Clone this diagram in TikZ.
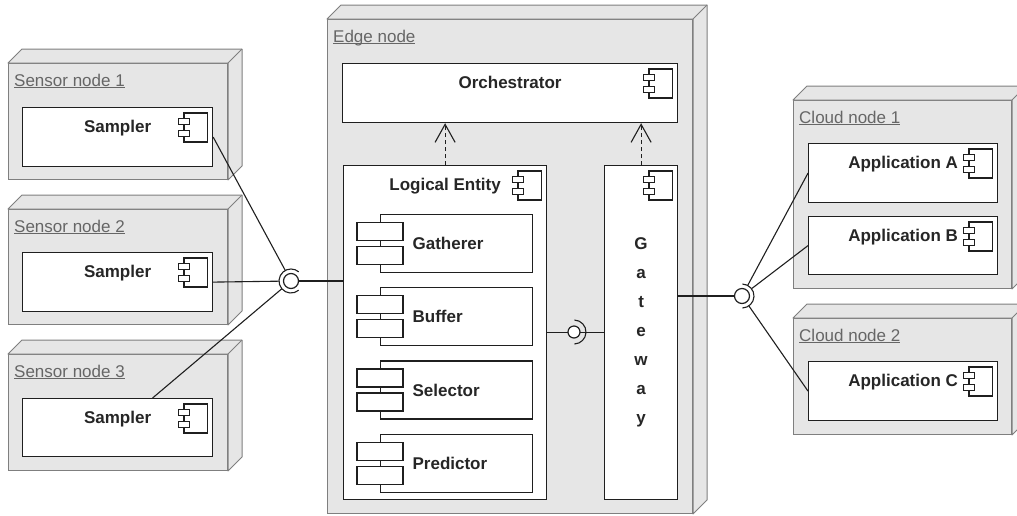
\documentclass[tikz,border=0pt]{standalone}
\usepackage{fontspec}
\setmainfont{Liberation Sans}
\usetikzlibrary{arrows.meta,calc,positioning}

\definecolor{nodefill}{HTML}{E6E6E6}
\definecolor{nodeline}{HTML}{7F7F7F}
\definecolor{titletext}{HTML}{666666}
\definecolor{compline}{HTML}{1F1F1F}

\tikzset{
    box3d/.style={
        draw=nodeline,
        fill=nodefill,
        line width=1pt,
        rectangle,
        anchor=north west,
        inner sep=0pt
    },
    face3d/.style={
        draw=nodeline,
        fill=nodefill,
        line width=1pt,
        line join=round
    },
    nodetitle/.style={
        anchor=base west,
        inner sep=0pt,
        text=titletext,
        font=\fontsize{17}{20}\selectfont
    },
    comp/.style={
        draw=compline,
        fill=white,
        line width=1.2pt,
        rectangle,
        anchor=north west,
        inner sep=0pt
    },
    compname/.style={
        anchor=base,
        inner sep=0pt,
        text=black!85,
        font=\bfseries\fontsize{17}{20}\selectfont
    },
    subcomp/.style={
        comp,
        minimum width=152pt,
        minimum height=58pt,
        text width=88pt,
        inner xsep=32pt,
        align=left,
        text=black!85,
        font=\bfseries\fontsize{17}{20}\selectfont
    },
    tabbox/.style={
        draw=compline,
        fill=white,
        line width=1.2pt
    },
    iface/.style={
        circle,
        minimum size=24pt,
        inner sep=0pt
    },
    ball/.style={
        circle,
        draw=compline,
        fill=white,
        line width=1.2pt,
        inner sep=0pt
    },
    link/.style={
        draw=compline,
        line width=1.1pt
    },
    dep/.style={
        draw=compline,
        line width=1.1pt,
        dash pattern=on 4pt off 3pt,
        -{Straight Barb[length=18pt,width=20pt]}
    },
    modicon/.pic={
        \draw[tabbox] (-29.2,6) rectangle (-6,35);
        \draw[tabbox] (-35,11.8) rectangle (-23.4,17.6);
        \draw[tabbox] (-35,23.4) rectangle (-23.4,29.2);
    }
}

% deployment node drawn as a 3d box: name, corner, width, height, title
\newcommand{\deploynode}[5]{%
    \node[box3d, minimum width=#3pt, minimum height=#4pt] (#1) at #2 {};
    \draw[face3d] (#1.north west) -- ++(14,-14) -- ($(#1.north east)+(14,-14)$)
        -- ($(#1.south east)+(14,-14)$) -- (#1.south east) -- (#1.north east) -- cycle;
    \draw[face3d] (#1.north east) -- ++(14,-14);
    \node[nodetitle] (#1-title) at ($(#1.north west)+(6,23)$) {\underline{\smash{#5}}};
}

\begin{document}
\begin{tikzpicture}[x=1pt, y=-1pt]
    \clip (0,0) rectangle (1017,515);

    % deployment nodes
    \deploynode{sens1}{(8,63)}{219}{116}{Sensor node 1}
    \deploynode{sens2}{(8,209)}{219}{115}{Sensor node 2}
    \deploynode{sens3}{(8,354)}{219}{116}{Sensor node 3}
    \deploynode{edge}{(327,19)}{365}{494}{Edge node}
    \deploynode{cloud1}{(793,100)}{218}{188}{Cloud node 1}
    \deploynode{cloud2}{(793,318)}{218}{116}{Cloud node 2}

    % sensor side
    \node[comp, minimum width=190pt, minimum height=59pt] (samp1) at (22,107) {};
    \node[compname] (samp1-name) at ($(samp1.north)+(0,25)$) {Sampler};
    \node[comp, minimum width=190pt, minimum height=59pt] (samp2) at (22,252) {};
    \node[compname] (samp2-name) at ($(samp2.north)+(0,25)$) {Sampler};
    \node[comp, minimum width=190pt, minimum height=58pt] (samp3) at (22,398) {};
    \node[compname] (samp3-name) at ($(samp3.north)+(0,25)$) {Sampler};

    % edge side
    \node[comp, minimum width=335pt, minimum height=59pt] (orch) at (342,63) {};
    \node[compname] (orch-name) at ($(orch.north)+(0,25)$) {Orchestrator};
    \node[comp, minimum width=203pt, minimum height=334pt] (le) at (343,165) {};
    \node[compname] (le-name) at ($(le.north)+(0,25)$) {Logical Entity};
    \node[comp, minimum width=73pt, minimum height=334pt, align=center, text=black!85,
          font=\bfseries\fontsize{17}{29}\selectfont] (gw) at (604,165) {G\\a\\t\\e\\w\\a\\y};

    \node[subcomp] (gath) at (380,214) {Gatherer};
    \node[subcomp, below=14pt of gath] (buff) {Buffer};
    \node[subcomp, below=14pt of buff] (sel) {Selector};
    \node[subcomp, below=14pt of sel] (pred) {Predictor};
    \foreach \c in {gath,buff,sel,pred}{
        \draw[tabbox] ($(\c.west)+(-23,-21)$) rectangle ++(46,18);
        \draw[tabbox] ($(\c.west)+(-23,3)$) rectangle ++(46,18);
    }

    % cloud side
    \node[comp, minimum width=189pt, minimum height=59pt] (appA) at (808,143) {};
    \node[compname] (appA-name) at ($(appA.north)+(0,25)$) {Application A};
    \node[comp, minimum width=189pt, minimum height=58pt] (appB) at (808,216) {};
    \node[compname] (appB-name) at ($(appB.north)+(0,25)$) {Application B};
    \node[comp, minimum width=189pt, minimum height=59pt] (appC) at (808,361) {};
    \node[compname] (appC-name) at ($(appC.north)+(0,25)$) {Application C};

    \foreach \c in {samp1,samp2,samp3,orch,le,gw,appA,appB,appC}{
        \pic at (\c.north east) {modicon};
    }

    % interfaces
    \node[iface] (ifL) at (291,281) {};
    \node[iface] (ifM) at (574,332) {};
    \node[iface] (ifR) at (742,296) {};

    \draw[link] (samp1.east) -- (ifL);
    \draw[link] (samp2.east) -- (ifL);
    \draw[link] (samp3) -- (ifL);
    \draw[link] (ifL.center) -- (ifL -| le.west);
    \draw[link] (le.east) -- (gw.west);
    \draw[link] (ifR -| gw.east) -- (ifR.center);
    \draw[link] (ifR) -- (appA.west);
    \draw[link] (ifR) -- (appB.west);
    \draw[link] (ifR) -- (appC.west);

    \node[ball, minimum size=15pt] (ballL) at (ifL) {};
    \node[ball, minimum size=12pt] (ballM) at (ifM) {};
    \node[ball, minimum size=15pt] (ballR) at (ifR) {};
    \draw[link] ($(ifL)+(50:12)$) arc[start angle=50, end angle=310, radius=12];
    \draw[link] ($(ifM)+(-88:12)$) arc[start angle=-88, end angle=88, radius=12];
    \draw[link] ($(ifR)+(-88:12)$) arc[start angle=-88, end angle=88, radius=12];

    % dependencies
    \draw[dep] (le.north) -- (le.north |- orch.south);
    \draw[dep] (gw.north) -- (gw.north |- orch.south);
\end{tikzpicture}
\end{document}
